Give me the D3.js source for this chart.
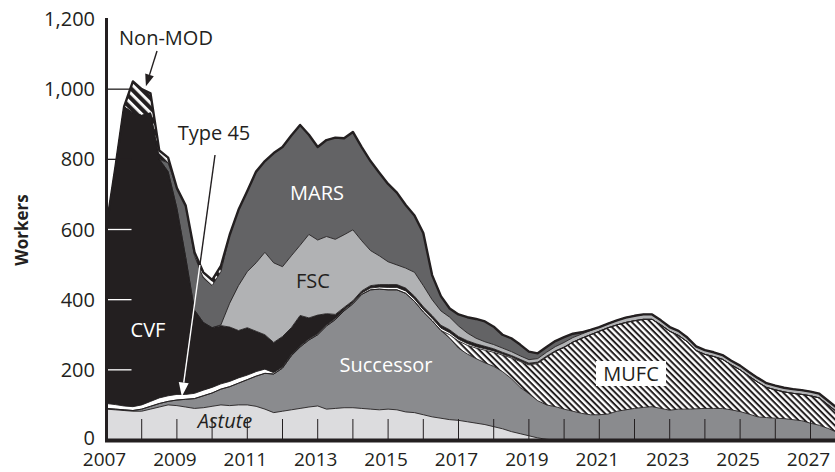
<!DOCTYPE html>
<html>
<head>
<meta charset="utf-8">
<script src="https://cdnjs.cloudflare.com/ajax/libs/d3/7.8.5/d3.min.js"></script>
<style>
  body { margin: 0; background: #fff; }
  svg { display: block; font-family: "Open Sans", "Noto Sans", sans-serif; }
</style>
</head>
<body>
<svg id="chart" width="835" height="472"></svg>
<script>
// quarterly grid, 2007 Q1 .. 2027 Q4
var years = d3.range(84).map(function(i) { return 2007 + i / 4; });

// workers per programme (one value per quarter)
var astute = [88,86,84,82, 82,88,94,100, 98,94,90,92, 96,100,98,100, 100,96,88,78,
  82,86,90,94, 97,88,90,92, 92,90,88,86, 88,86,80,78, 72,66,62,58, 56,52,48,44,
  38,32,24,18, 12,6,2,0, 0,0,0,0, 0,0,0,0, 0,0,0,0, 0,0,0,0, 0,0,0,0, 0,0,0,0, 0,0,0,0, 0,0,0,0];
var successor = [2,2,2,2, 6,8,10,10, 16,22,28,34, 38,45,54,62, 72,86,102,110,
  123,154,175,191, 203,237,253,276, 296,325,340,344, 340,342,338,317, 293,274,250,232,
  206,193,184,176, 172,163,151,132, 120,106,98,95, 88,82,76,72, 72,74,82,86,
  90,93,95,90, 85,88,88,89, 90,90,90,86, 81,74,66,64, 62,61,58,55, 48,42,33,22];
var mufc = [0,0,0,0, 0,0,0,0, 0,0,0,0, 0,0,0,0, 0,0,0,0, 0,0,0,0, 0,0,0,0, 0,0,0,0,
  0,0,0,0, 0,0,0,10, 20,25,30,36, 40,47,59,74, 82,106,136,157, 176,197,214,228,
  238,246,246,249, 250,251,249,238, 225,210,192,166, 154,148,140,128, 119,108,99,86,
  81,76,75,75, 78,78,67,58];
var type45 = [14,13,11,11, 12,14,16,16, 16,14,15,16, 16,15,15,15, 13,13,12,4,
  3,3,3,3, 3,3,3,3, 3,4,5,6, 7,7,7,7, 7,7,7,6, 5,5,4,4, 4,3,3,2, 2,2,1,1,
  0,0,0,0, 0,0,0,0, 0,0,0,0, 0,0,0,0, 0,0,0,0, 0,0,0,0, 0,0,0,0, 0,0,0,0];
var cvf = [506,674,853,837, 825,822,680,639, 530,390,237,193, 170,166,155,135, 135,115,98,86,
  87,77,87,60, 53,32,12,7, 6,6,7,7, 8,8,8,8, 8,8,8,8, 8,8,8,7, 6,5,4,4, 3,2,2,1,
  1,0,0,0, 0,0,0,0, 0,0,0,0, 0,0,0,0, 0,0,0,0, 0,0,0,0, 0,0,0,0, 0,0,0,0];
var fsc = [0,0,0,0, 0,0,0,0, 0,0,0,0, 0,2,68,128, 160,195,235,227,
  199,205,200,238, 214,220,214,207, 202,143,100,82, 65,56,57,68, 60,45,41,36,
  30,22,16,13, 12,12,11,10, 10,10,11,12, 13,13,12,12, 12,12,13,14, 14,14,14,13,
  12,13,12,12, 12,12,12,12, 12,12,12,12, 12,12,12,12, 12,12,12,12];
var mars = [0,0,0,0, 0,0,0,25, 58,148,155,127, 120,152,195,216, 230,260,260,313,
  341,343,343,284, 265,275,290,275, 279,267,255,237, 222,206,180,162, 150,70,42,25,
  33,45,55,58, 51,38,38,32, 23,15,15,16, 15,11,5,2, 0,0,0,0, 0,0,0,0, 0,0,0,0,
  0,0,0,0, 0,0,0,0, 0,0,0,0, 0,0,0,0];
var nonmod = [0,0,0,90, 75,56,25,15, 0,0,10,16, 16,16,0,0, 0,0,0,0,
  0,0,0,0, 0,0,0,0, 0,0,0,0, 0,0,0,0, 0,0,0,0, 0,0,0,0, 0,0,0,0, 0,0,0,0,
  0,0,0,0, 0,0,0,0, 0,0,0,0, 0,0,0,0, 0,0,0,0, 0,0,0,0, 0,0,0,0, 0,0,0,0];

var yTicks = [0, 200, 400, 600, 800, 1000, 1200];
var xLabels = [2007, 2009, 2011, 2013, 2015, 2017, 2019, 2021, 2023, 2025, 2027];
var xTicks = d3.range(2008, 2028);

var series = { astute: astute, successor: successor, mufc: mufc, type45: type45,
  cvf: cvf, fsc: fsc, mars: mars, nonmod: nonmod };
var keys = ["astute", "successor", "mufc", "type45", "cvf", "fsc", "mars", "nonmod"];
var fills = { astute: "#dcdcde", successor: "#8a8b8e", mufc: "url(#hatchFine)", type45: "#fff",
  cvf: "#231f20", fsc: "#b1b2b4", mars: "#636365", nonmod: "url(#hatchWide)" };
var ink = "#231f20";

var rows = years.map(function(yr, i) {
  var r = { year: yr };
  keys.forEach(function(k) { r[k] = series[k][i]; });
  return r;
});

var svg = d3.select("#chart");
var x = d3.scaleLinear().domain([2007, 2028]).range([106.5, 845.7]);
var y = d3.scaleLinear().domain([0, 1200]).range([440, 19]);

var defs = svg.append("defs");
var fine = defs.append("pattern").attr("id", "hatchFine").attr("patternUnits", "userSpaceOnUse")
  .attr("width", 8).attr("height", 4.4).attr("patternTransform", "rotate(45)");
fine.append("rect").attr("width", 8).attr("height", 4.4).attr("fill", "#fff");
fine.append("rect").attr("width", 8).attr("height", 2.0).attr("fill", ink);
var wide = defs.append("pattern").attr("id", "hatchWide").attr("patternUnits", "userSpaceOnUse")
  .attr("width", 8).attr("height", 7).attr("patternTransform", "rotate(45)");
wide.append("rect").attr("width", 8).attr("height", 7).attr("fill", ink);
wide.append("rect").attr("width", 8).attr("height", 2.8).attr("fill", "#fff");
defs.append("clipPath").attr("id", "plot").append("rect")
  .attr("x", x(2007)).attr("y", 0).attr("width", 835 - x(2007)).attr("height", y(0));

var stacked = d3.stack().keys(keys)(rows);
var area = d3.area().x(function(d) { return x(d.data.year); })
  .y0(function(d) { return y(d[0]); }).y1(function(d) { return y(d[1]); });
var topLine = d3.line().x(function(d) { return x(d.data.year); }).y(function(d) { return y(d[1]); });

var g = svg.append("g").attr("clip-path", "url(#plot)");
g.selectAll("path.layer").data(stacked).enter().append("path")
  .attr("class", "layer").attr("d", area).attr("fill", function(d) { return fills[d.key]; });
g.selectAll("path.edge").data(stacked.slice(0, -1)).enter().append("path")
  .attr("class", "edge").attr("d", topLine).attr("fill", "none")
  .attr("stroke", ink).attr("stroke-width", 0.9).attr("stroke-linejoin", "round");
g.append("path").attr("d", topLine(stacked[stacked.length - 1])).attr("fill", "none")
  .attr("stroke", ink).attr("stroke-width", 2.4).attr("stroke-linejoin", "round");

// year ticks sit inside the plot, on top of the areas
svg.selectAll("line.xt").data(xTicks).enter().append("line")
  .attr("x1", function(d) { return x(d); }).attr("x2", function(d) { return x(d); })
  .attr("y1", y(0)).attr("y2", y(0) - 21).attr("stroke", ink).attr("stroke-width", 1);
svg.selectAll("line.yt").data(yTicks.slice(1, -1)).enter().append("line")
  .attr("x1", x(2007)).attr("x2", x(2007) + 25)
  .attr("y1", function(d) { return y(d); }).attr("y2", function(d) { return y(d); })
  .attr("stroke", function(d) { return d <= 600 ? "#fff" : ink; }).attr("stroke-width", 1.3);

svg.append("line").attr("x1", x(2007)).attr("x2", x(2007)).attr("y1", y(1200) - 1).attr("y2", y(0) + 2)
  .attr("stroke", ink).attr("stroke-width", 3);
svg.append("line").attr("x1", x(2007) - 1.5).attr("x2", 835).attr("y1", y(0) + 0.5).attr("y2", y(0) + 0.5)
  .attr("stroke", ink).attr("stroke-width", 4);

svg.selectAll("text.yl").data(yTicks).enter().append("text")
  .attr("x", 95).attr("y", function(d) { return y(d) - (d === 0 ? 2 : 0); }).attr("dy", "0.35em")
  .attr("text-anchor", "end").attr("font-size", 20).attr("fill", ink)
  .text(function(d) { return d3.format(",")(d); });
svg.selectAll("text.xl").data(xLabels).enter().append("text")
  .attr("x", function(d) { return x(d) - 2; }).attr("y", 466)
  .attr("text-anchor", "middle").attr("font-size", 19).attr("fill", ink)
  .text(function(d) { return d; });
svg.append("text").attr("transform", "translate(28,230) rotate(-90)")
  .attr("text-anchor", "middle").attr("font-size", 17).attr("font-weight", "bold")
  .attr("fill", ink).text("Workers");

// series labels
function label(txt, px, py, color, italic) {
  return svg.append("text").attr("x", px).attr("y", py).attr("text-anchor", "middle")
    .attr("font-size", 20).attr("fill", color).attr("font-style", italic ? "italic" : null)
    .text(txt);
}
svg.append("rect").attr("x", 596).attr("y", 361).attr("width", 70).attr("height", 25).attr("fill", "#fff");
label("MUFC", 631, 381, ink);
label("CVF", 148, 337, "#fff");
label("MARS", 317, 200, "#fff");
label("FSC", 313, 288, ink);
label("Successor", 386, 372, "#fff");
label("Astute", 225, 428, ink, true);
label("Non-MOD", 166, 45, ink);
label("Type 45", 214, 140, ink);

function arrow(x1, y1, x2, y2, color, len, half) {
  var dx = x2 - x1, dy = y2 - y1, L = Math.sqrt(dx * dx + dy * dy);
  var ux = dx / L, uy = dy / L;
  var bx = x2 - ux * len, by = y2 - uy * len;
  svg.append("line").attr("x1", x1).attr("y1", y1).attr("x2", bx).attr("y2", by)
    .attr("stroke", color).attr("stroke-width", 1.4);
  svg.append("path").attr("fill", color)
    .attr("d", "M" + x2 + "," + y2 + "L" + (bx - uy * half) + "," + (by + ux * half) +
      "L" + (bx + uy * half) + "," + (by - ux * half) + "Z");
}
arrow(157, 51, x(2008.12), y(1008), ink, 12, 4.5);
// Type 45 pointer: dark over the white background, white once it enters the stack
var tipX = x(2009.14), tipY = y(124);
var splitT = (265 - 155) / (tipY - 155);
var sx = 215 + (tipX - 215) * splitT;
svg.append("line").attr("x1", 215).attr("y1", 155).attr("x2", sx).attr("y2", 265)
  .attr("stroke", ink).attr("stroke-width", 1.4);
arrow(sx, 265, tipX, tipY, "#fff", 14, 5);
</script>
</body>
</html>
